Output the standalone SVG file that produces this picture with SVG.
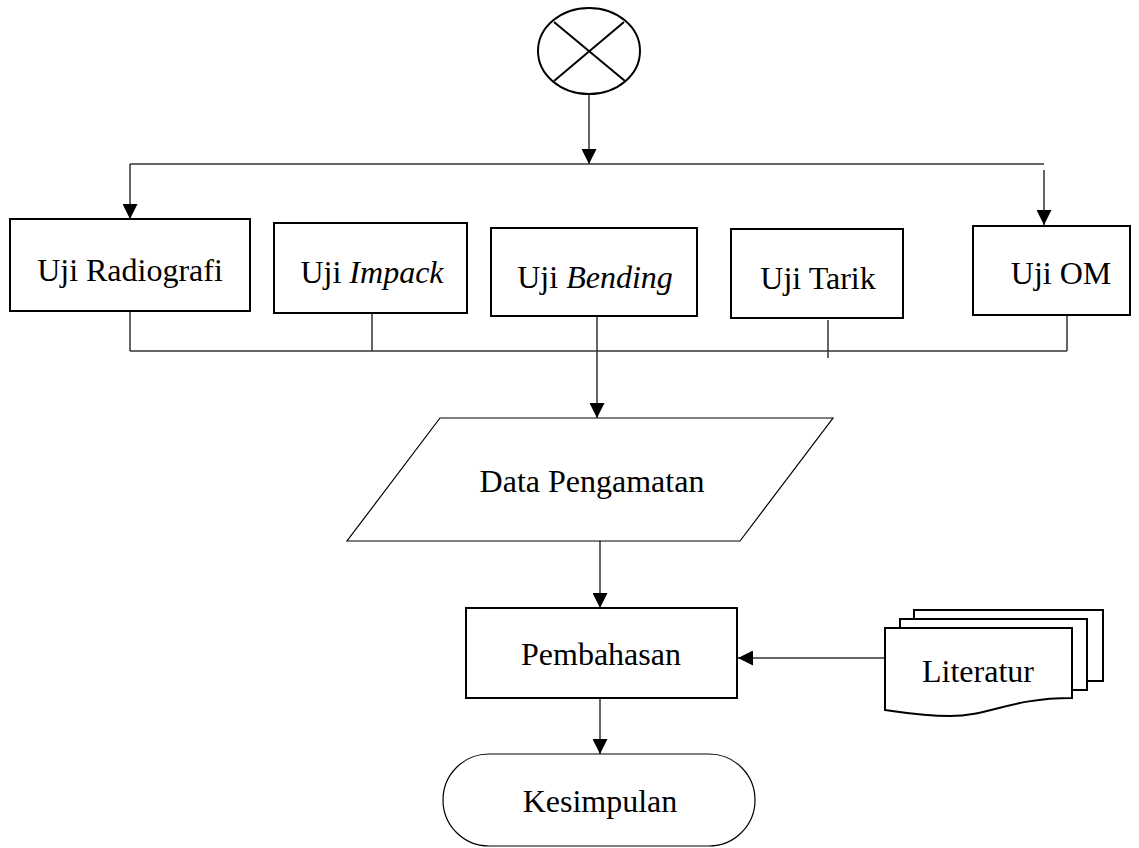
<svg xmlns="http://www.w3.org/2000/svg" width="1139" height="848" viewBox="0 0 1139 848">
<defs>
<style>
.box{fill:#fff;stroke:#000;stroke-width:2}
.thin{fill:#fff;stroke:#000;stroke-width:1.2}
.ln{fill:none;stroke:#333;stroke-width:1.5}
.t{font-family:"Liberation Serif","Times New Roman",serif;font-size:32px;fill:#000;text-anchor:middle}
.i{font-style:italic}
</style>
<marker id="ah" viewBox="0 0 10 10" refX="10" refY="5" markerWidth="15" markerHeight="15" markerUnits="userSpaceOnUse" orient="auto">
<path d="M0,0 L10,5 L0,10 Z" fill="#000"/>
</marker>
</defs>
<rect width="1139" height="848" fill="#fff"/>
<g id="connectors">
<line class="ln" x1="589" y1="94" x2="589" y2="164" marker-end="url(#ah)"/>
<line class="ln" x1="130" y1="164" x2="1044" y2="164"/>
<line class="ln" x1="130" y1="164" x2="130" y2="219" marker-end="url(#ah)"/>
<line class="ln" x1="1044" y1="170" x2="1044" y2="225" marker-end="url(#ah)"/>
<line class="ln" x1="130" y1="311" x2="130" y2="351"/>
<line class="ln" x1="372" y1="313" x2="372" y2="351"/>
<line class="ln" x1="597" y1="316" x2="597" y2="418" marker-end="url(#ah)"/>
<line class="ln" x1="828" y1="320" x2="828" y2="358"/>
<line class="ln" x1="1067" y1="315" x2="1067" y2="351"/>
<line class="ln" x1="130" y1="351" x2="1067" y2="351"/>
<line class="ln" x1="600" y1="541" x2="600" y2="608" marker-end="url(#ah)"/>
<line class="ln" x1="885" y1="658" x2="738" y2="658" marker-end="url(#ah)"/>
<line class="ln" x1="600" y1="698" x2="600" y2="754" marker-end="url(#ah)"/>
</g>
<g id="start">
<ellipse cx="589" cy="51" rx="51" ry="43" class="box"/>
<line x1="554" y1="22" x2="625" y2="81" stroke="#000" stroke-width="2"/>
<line x1="624" y1="22" x2="554" y2="81" stroke="#000" stroke-width="2"/>
</g>
<g id="uji-radiografi">
<rect x="10" y="219" width="240" height="92" class="box"/>
<text x="130" y="281" class="t">Uji Radiografi</text>
</g>
<g id="uji-impack">
<rect x="274" y="223" width="193" height="90" class="box"/>
<text x="372" y="283" class="t">Uji <tspan class="i">Impack</tspan></text>
</g>
<g id="uji-bending">
<rect x="491" y="228" width="206" height="88" class="box"/>
<text x="595" y="288" class="t">Uji <tspan class="i">Bending</tspan></text>
</g>
<g id="uji-tarik">
<rect x="731" y="229" width="172" height="89" class="box"/>
<text x="818" y="289" class="t">Uji Tarik</text>
</g>
<g id="uji-om">
<rect x="973" y="226" width="157" height="89" class="box"/>
<text x="1061" y="284" class="t">Uji OM</text>
</g>
<g id="data-pengamatan">
<polygon points="440,418 833,418 740,541 347,541" class="thin"/>
<text x="592" y="492" class="t">Data Pengamatan</text>
</g>
<g id="pembahasan">
<rect x="466" y="608" width="271" height="90" class="box"/>
<text x="601" y="665" class="t">Pembahasan</text>
</g>
<g id="literatur">
<path d="M914,619 V610 H1103 V681 H1087" class="box"/>
<path d="M900,628 V619 H1087 V690 H1072" class="box"/>
<path d="M885,628 H1072 V698 C1010,698 990,716 950,716 C920,716 900,712 885,710 Z" class="box"/>
<text x="978" y="682" class="t">Literatur</text>
</g>
<g id="kesimpulan">
<rect x="443" y="754" width="312" height="92" rx="46" ry="46" class="thin"/>
<text x="600" y="812" class="t">Kesimpulan</text>
</g>
</svg>
